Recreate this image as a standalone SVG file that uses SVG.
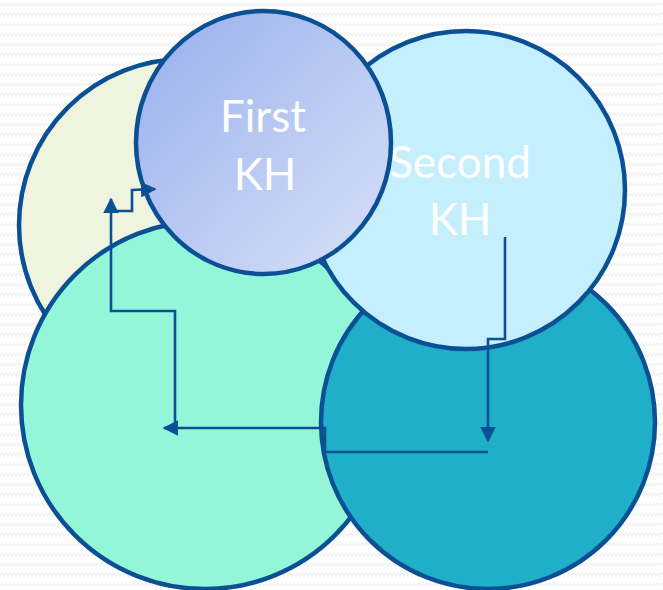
<svg xmlns="http://www.w3.org/2000/svg" width="663" height="590" viewBox="0 0 663 590">
<defs>
<pattern id="zz" width="8" height="10" patternUnits="userSpaceOnUse">
<polyline points="0,6 2,3 4,6 6,3 8,6" fill="none" stroke="#f0f0f0" stroke-width="1.2"/>
</pattern>
<linearGradient id="g1" x1="0" y1="0" x2="1" y2="1">
<stop offset="0" stop-color="#97AFEC"/>
<stop offset="1" stop-color="#D8E1F8"/>
</linearGradient>
<marker id="ah" viewBox="0 0 10 10" refX="9" refY="5" markerWidth="6" markerHeight="6" orient="auto" markerUnits="strokeWidth">
<path d="M0,0 L10,5 L0,10 z" fill="#0B5095"/>
</marker>
<style>
.c{stroke:#0B5095;stroke-width:4.5}
.t{fill:#ffffff;font-family:Lato,"Open Sans","DejaVu Sans",sans-serif;font-size:44px;text-anchor:middle}
.k{fill:none;stroke:#0B5095;stroke-width:2.6}
</style>
</defs>
<rect width="663" height="590" fill="#ffffff"/>
<rect width="663" height="590" fill="url(#zz)"/>
<g id="n-yellow"><circle class="c" cx="185" cy="225" r="166" fill="#EEF4DD"/></g>
<g id="n-green"><circle class="c" cx="205" cy="405" r="184" fill="#94F6D8"/></g>
<g id="n-teal"><circle class="c" cx="488" cy="422" r="167" fill="#20AFC8"/></g>
<g id="n-second"><circle class="c" cx="466" cy="190" r="159" fill="#C5EFFD"/>
<text class="t" x="460" y="178">Second</text><text class="t" x="460" y="235">KH</text></g>
<g id="n-first"><ellipse class="c" cx="263.5" cy="142.5" rx="127.5" ry="131.5" fill="url(#g1)"/>
<text class="t" x="263" y="132">First</text><text class="t" x="265" y="190">KH</text></g>
<g id="connectors">
<polyline class="k" points="505,237 505,339 488,339 488,441" marker-end="url(#ah)"/>
<polyline class="k" points="488,452 325,452 325,428 164,428" marker-end="url(#ah)"/>
<polyline class="k" points="175,428 175,311 111,311 111,199" marker-end="url(#ah)"/>
<polyline class="k" points="111,211 132,211 132,190 155,189" marker-end="url(#ah)"/>
</g>
</svg>
